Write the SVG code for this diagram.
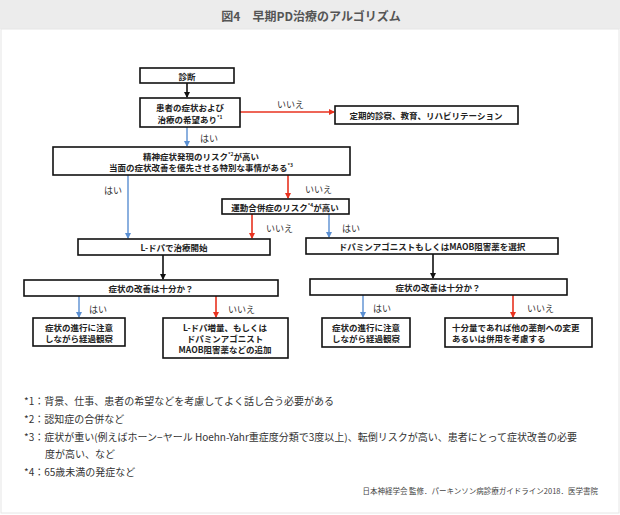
<svg xmlns="http://www.w3.org/2000/svg" width="620" height="515" viewBox="0 0 620 515">
<style>
.box{fill:#fff;stroke:#111;stroke-width:1.6}
.bt{font-family:"Noto Sans CJK JP","Noto Sans",sans-serif;font-size:8.5px;font-weight:bold;fill:#222;text-anchor:middle;dominant-baseline:central}
.lbl{font-family:"Noto Sans CJK JP","Noto Sans",sans-serif;font-size:9px;fill:#333;dominant-baseline:central}
.fn{font-family:"Noto Sans CJK JP","Noto Sans",sans-serif;font-size:10px;fill:#333;dominant-baseline:central}
.sup{font-size:5px}
.blue{stroke:#5a8fd2;stroke-width:1.4;fill:none}
.red{stroke:#e8321f;stroke-width:1.6;fill:none}
.blk{stroke:#111;stroke-width:1.6;fill:none}
</style>
<defs>
<marker id="ab" markerWidth="6" markerHeight="6" refX="5" refY="3" orient="auto" markerUnits="userSpaceOnUse"><path d="M0,0 L6,3 L0,6 Z" fill="#5a8fd2"/></marker>
<marker id="ar" markerWidth="6" markerHeight="6" refX="5" refY="3" orient="auto" markerUnits="userSpaceOnUse"><path d="M0,0 L6,3 L0,6 Z" fill="#e8321f"/></marker>
<marker id="ak" markerWidth="6" markerHeight="6" refX="5" refY="3" orient="auto" markerUnits="userSpaceOnUse"><path d="M0,0 L6,3 L0,6 Z" fill="#111"/></marker>
</defs>
<rect x="0" y="0" width="620" height="515" fill="#fff"/>
<rect x="0" y="0" width="620" height="29" fill="#ececec"/>
<rect x="1" y="29" width="618" height="484" fill="#fff" stroke="#e6e6e6" stroke-width="1"/>
<text x="311" y="15" font-family="'Noto Sans CJK JP','Noto Sans',sans-serif" font-size="12" font-weight="bold" fill="#555" text-anchor="middle" dominant-baseline="central">図4　早期PD治療のアルゴリズム</text>

<g id="connectors">
<line class="blk" x1="187" y1="83" x2="187" y2="97" marker-end="url(#ak)"/>
<line class="red" x1="240" y1="112" x2="334" y2="112" marker-end="url(#ar)"/>
<line class="blue" x1="187" y1="127" x2="187" y2="146" marker-end="url(#ab)"/>
<line class="blue" x1="128" y1="175" x2="128" y2="238" marker-end="url(#ab)"/>
<line class="red" x1="288" y1="175" x2="288" y2="198" marker-end="url(#ar)"/>
<line class="red" x1="252" y1="214" x2="252" y2="238" marker-end="url(#ar)"/>
<line class="blue" x1="329" y1="214" x2="329" y2="237" marker-end="url(#ab)"/>
<line class="blk" x1="163" y1="255" x2="163" y2="279" marker-end="url(#ak)"/>
<line class="blk" x1="433" y1="254" x2="433" y2="278" marker-end="url(#ak)"/>
<line class="blue" x1="79" y1="296" x2="79" y2="317" marker-end="url(#ab)"/>
<line class="red" x1="216" y1="296" x2="216" y2="317" marker-end="url(#ar)"/>
<line class="blue" x1="363" y1="295" x2="363" y2="317" marker-end="url(#ab)"/>
<line class="red" x1="513" y1="295" x2="513" y2="317" marker-end="url(#ar)"/>
<text class="lbl" x="277" y="104">いいえ</text>
<text class="lbl" x="200" y="138">はい</text>
<text class="lbl" x="104" y="190">はい</text>
<text class="lbl" x="305" y="189">いいえ</text>
<text class="lbl" x="266" y="228">いいえ</text>
<text class="lbl" x="342" y="228">はい</text>
<text class="lbl" x="89" y="309">はい</text>
<text class="lbl" x="228" y="309">いいえ</text>
<text class="lbl" x="373" y="308">はい</text>
<text class="lbl" x="527" y="308">いいえ</text>
</g>

<g id="n-diag"><rect class="box" x="140" y="68" width="94" height="15"/><text class="bt" x="187" y="75.5">診断</text></g>
<g id="n-wish"><rect class="box" x="140" y="98" width="100" height="29"/><text class="bt" x="190" y="107">患者の症状および</text><text class="bt" x="190" y="118.5">治療の希望あり<tspan class="sup" dy="-3">*1</tspan></text></g>
<g id="n-regular"><rect class="box" x="335" y="106" width="183" height="18"/><text class="bt" x="426" y="115">定期的診察、教育、リハビリテーション</text></g>
<g id="n-psy"><rect class="box" x="53" y="147" width="297" height="28"/><text class="bt" x="201" y="155.5">精神症状発現のリスク<tspan class="sup" dy="-3">*2</tspan><tspan dy="3">が高い</tspan></text><text class="bt" x="201" y="166.5">当面の症状改善を優先させる特別な事情がある<tspan class="sup" dy="-3">*3</tspan></text></g>
<g id="n-motor"><rect class="box" x="222" y="199" width="127" height="15"/><text class="bt" x="285" y="206.5">運動合併症のリスク<tspan class="sup" dy="-3">*4</tspan><tspan dy="3">が高い</tspan></text></g>
<g id="n-ldopa"><rect class="box" x="78" y="239" width="192" height="16"/><text class="bt" x="174" y="247">L-ドパで治療開始</text></g>
<g id="n-da"><rect class="box" x="306" y="238" width="252" height="16"/><text class="bt" x="432" y="246">ドパミンアゴニストもしくはMAOB阻害薬を選択</text></g>
<g id="n-q1"><rect class="box" x="24" y="280" width="254" height="16"/><text class="bt" x="151" y="288">症状の改善は十分か？</text></g>
<g id="n-q2"><rect class="box" x="310" y="279" width="257" height="16"/><text class="bt" x="438" y="287">症状の改善は十分か？</text></g>
<g id="n-obs1"><rect class="box" x="33" y="318" width="92" height="28"/><text class="bt" x="79" y="327">症状の進行に注意</text><text class="bt" x="79" y="338">しながら経過観察</text></g>
<g id="n-inc"><rect class="box" x="163" y="318" width="125" height="40"/><text class="bt" x="225" y="327">L-ドパ増量、もしくは</text><text class="bt" x="225" y="338">ドパミンアゴニスト</text><text class="bt" x="225" y="349">MAOB阻害薬などの追加</text></g>
<g id="n-obs2"><rect class="box" x="322" y="318" width="88" height="29"/><text class="bt" x="366" y="327">症状の進行に注意</text><text class="bt" x="366" y="338">しながら経過観察</text></g>
<g id="n-change"><rect class="box" x="445" y="318" width="147" height="29"/><text class="bt" x="452" y="327" style="text-anchor:start">十分量であれば他の薬剤への変更</text><text class="bt" x="452" y="338" style="text-anchor:start">あるいは併用を考慮する</text></g>

<g id="footnotes">
<text class="fn" x="24" y="400">*1：背景、仕事、患者の希望などを考慮してよく話し合う必要がある</text>
<text class="fn" x="24" y="418">*2：認知症の合併など</text>
<text class="fn" x="24" y="436">*3：症状が重い(例えばホーン−ヤール Hoehn-Yahr重症度分類で3度以上)、転倒リスクが高い、患者にとって症状改善の必要</text>
<text class="fn" x="45" y="453">度が高い、など</text>
<text class="fn" x="24" y="471">*4：65歳未満の発症など</text>
<text x="598" y="490" font-family="'Noto Sans CJK JP','Noto Sans',sans-serif" font-size="7.5" fill="#444" text-anchor="end" dominant-baseline="central">日本神経学会 監修．パーキンソン病診療ガイドライン2018．医学書院</text>
</g>
</svg>
